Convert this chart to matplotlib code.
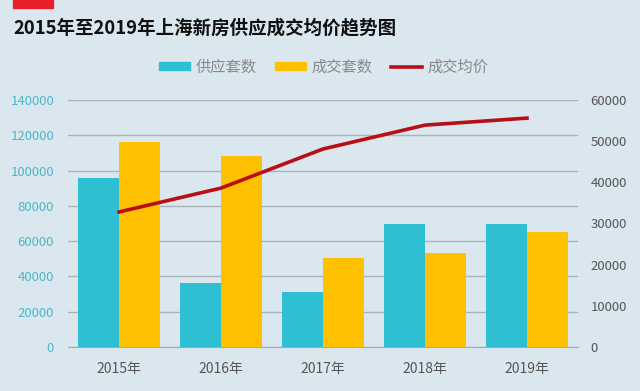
import numpy as np
import matplotlib.pyplot as plt
from matplotlib.patches import Rectangle, Patch
from matplotlib.lines import Line2D

plt.rcParams['font.family'] = ['Noto Sans CJK SC', 'DejaVu Sans']

years = ['2015年', '2016年', '2017年', '2018年', '2019年']
supply = [95700, 36300, 31200, 69700, 69700]      # 供应套数
deals = [116000, 108300, 50400, 53300, 65200]     # 成交套数
avg_price = [32800, 38600, 48100, 53900, 55600]   # 成交均价

bg = '#dbe7ee'
c_supply = '#2fbfd3'
c_deals = '#ffc000'
c_price = '#b80f16'

fig = plt.figure(figsize=(6.4, 3.91), dpi=100, facecolor=bg)
ax = fig.add_axes([68/640, 1-347/391, 510/640, 247/391])
ax.set_facecolor(bg)

x = np.arange(len(years))
w = 0.4
ax.bar(x - w/2, supply, w, color=c_supply, zorder=3)
ax.bar(x + w/2, deals, w, color=c_deals, zorder=3)
ax.set_xlim(-0.5, 4.5)
ax.set_ylim(0, 140000)
ax.set_yticks(np.arange(0, 140001, 20000))
ax.yaxis.grid(True, color='#a8b4bc', lw=1, zorder=0)
ax.set_xticks(x)
ax.set_xticklabels(years)
ax.tick_params(axis='x', length=0, pad=11, labelsize=10, labelcolor='#555555')
ax.tick_params(axis='y', length=0, pad=10, labelsize=9.5, labelcolor='#4db6c8')
for s in ['top', 'right', 'left']:
    ax.spines[s].set_visible(False)
ax.spines['bottom'].set_color('#a0aab0')

ax2 = ax.twinx()
ax2.plot(x, avg_price, color=c_price, lw=2.6, zorder=5)
ax2.set_ylim(0, 60000)
ax2.set_yticks(np.arange(0, 60001, 10000))
ax2.tick_params(axis='y', length=0, pad=9, labelsize=9.5, labelcolor='#555555')
for s in ax2.spines.values():
    s.set_visible(False)

# red block and title
fig.patches.append(Rectangle((13/640, 1-8/391), 40/640, 8/391,
                             transform=fig.transFigure, color='#e8202a'))
fig.text(13/640, 1-28/391, '2015年至2019年上海新房供应成交均价趋势图',
         fontsize=13.3, fontweight='bold', va='center', ha='left', color='#111111')

handles = [Patch(color=c_supply), Patch(color=c_deals),
           Line2D([], [], color=c_price, lw=2.6)]
fig.legend(handles, ['供应套数', '成交套数', '成交均价'], loc='center',
           bbox_to_anchor=(324/640, 1-67/391), ncol=3, frameon=False,
           fontsize=11, labelcolor='#888888', handlelength=2.0, handleheight=0.4,
           columnspacing=1.2, handletextpad=0.4)

fig.savefig('out.png', dpi=100, facecolor=bg)
